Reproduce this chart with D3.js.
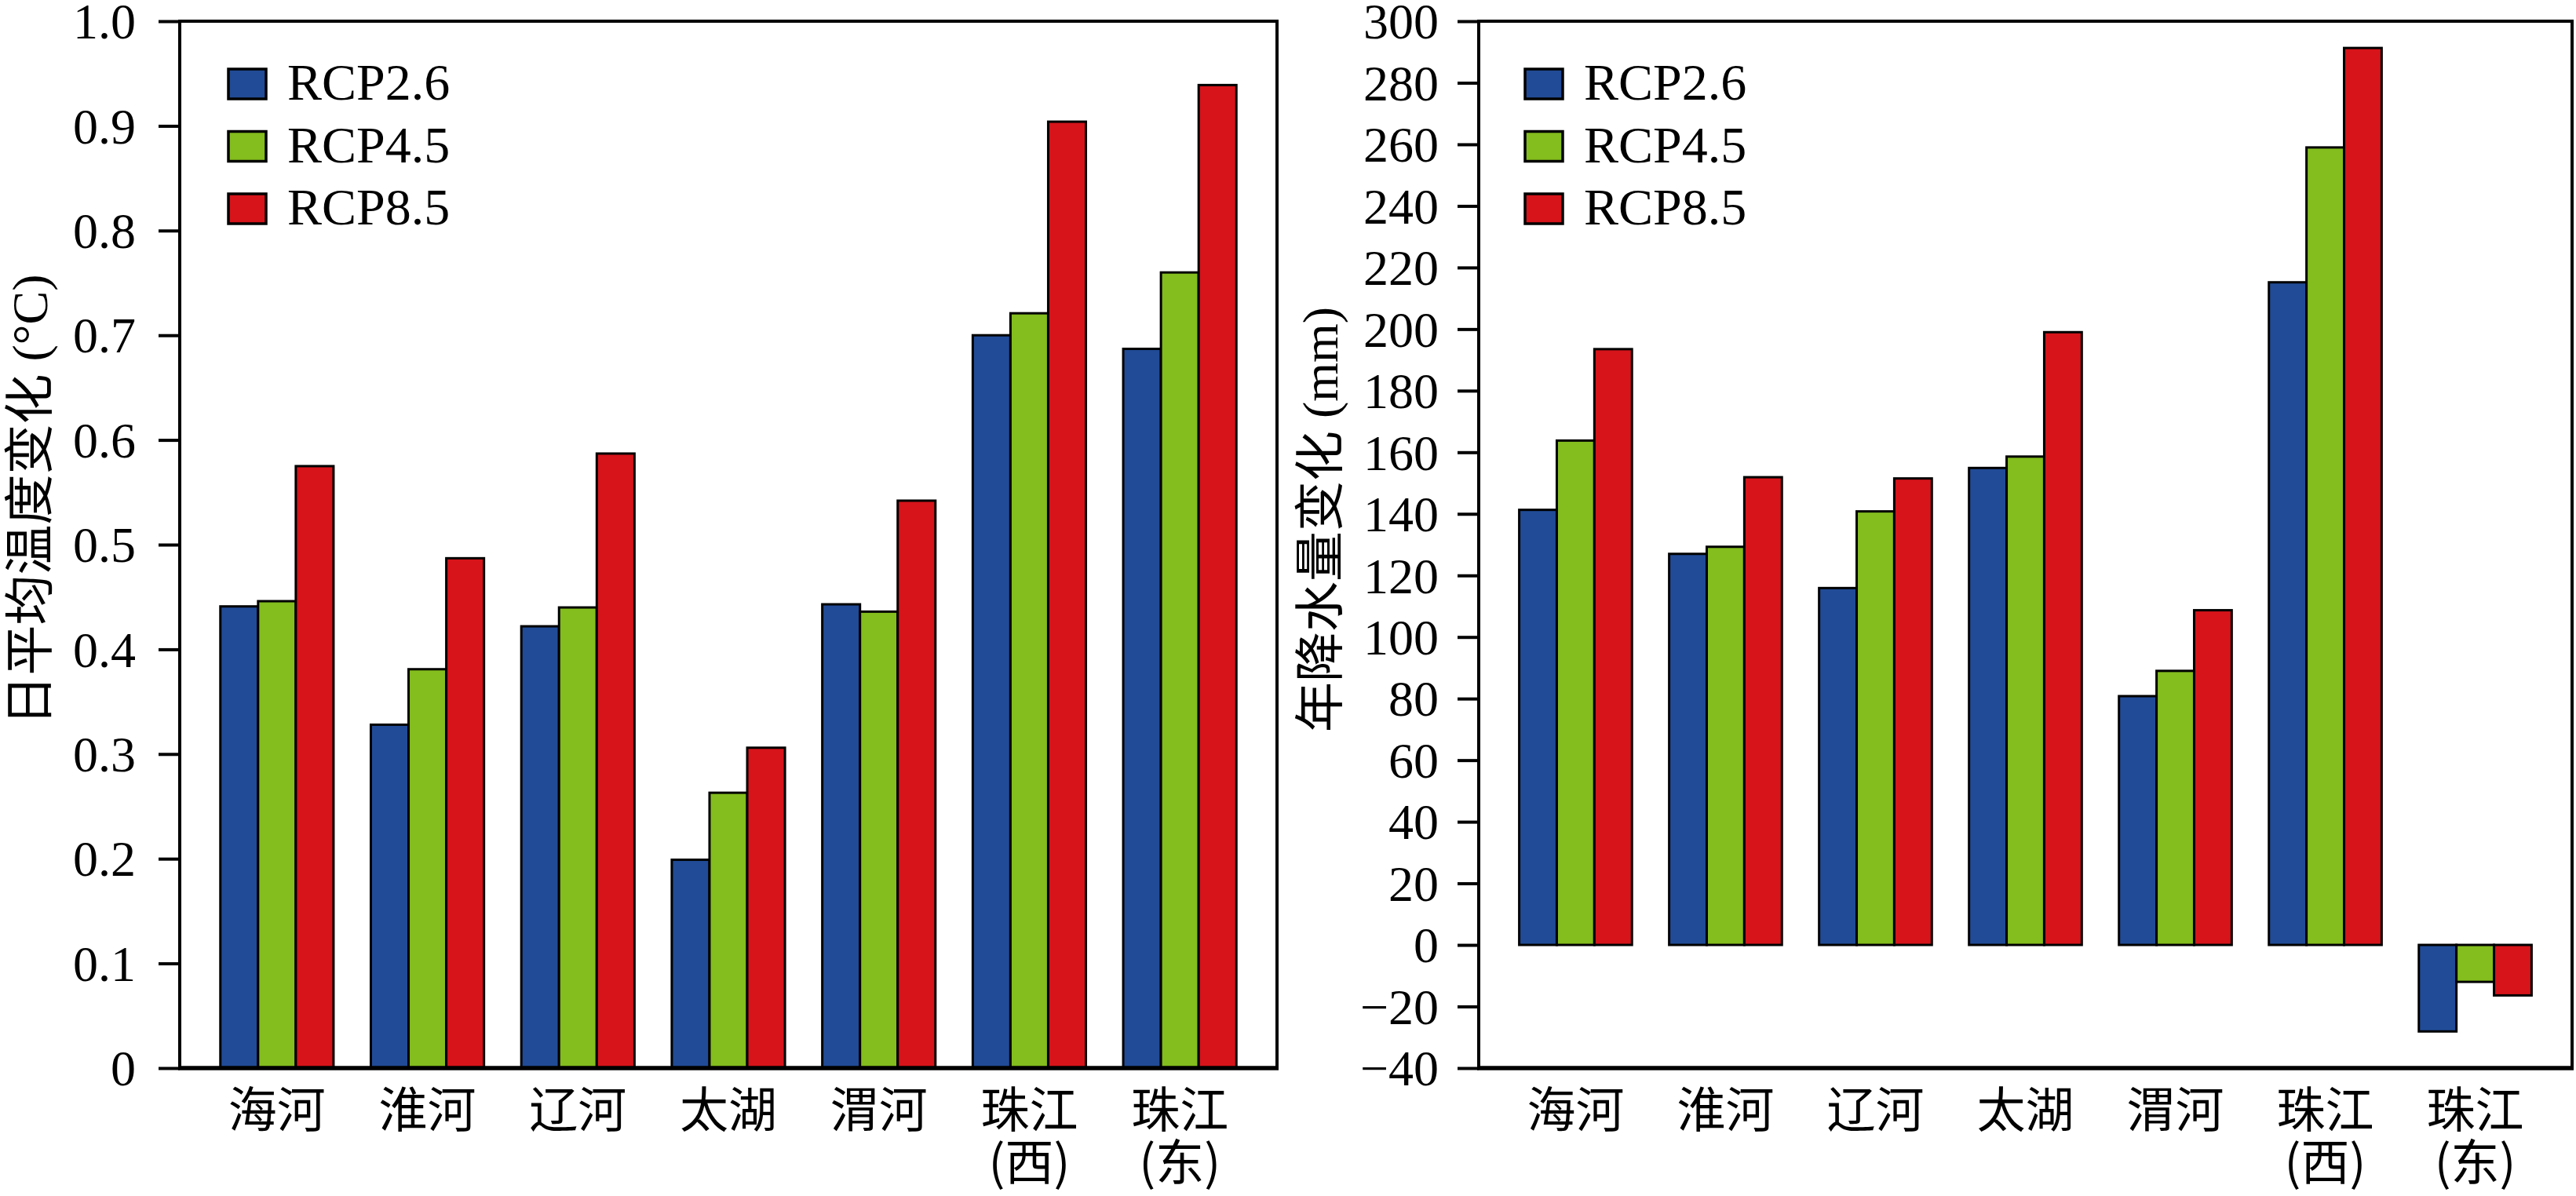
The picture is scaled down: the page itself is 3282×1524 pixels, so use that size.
<!DOCTYPE html>
<html>
<head>
<meta charset="utf-8">
<script src="https://cdnjs.cloudflare.com/ajax/libs/d3/7.8.5/d3.min.js"></script>
<style>
  body { margin: 0; background: #fff; }
  svg { display: block; }
</style>
</head>
<body>
<div id="chart"></div>
<script>
'use strict';

var basins = ['海河', '淮河', '辽河', '太湖', '渭河', '珠江(西)', '珠江(东)'];
var scenarios = ['RCP2.6', 'RCP4.5', 'RCP8.5'];
var colors = ['#214b96', '#83bd1e', '#d6141a'];

// daily mean temperature change (°C)
var tempRcp26 = [0.441, 0.328, 0.422, 0.199, 0.443, 0.700, 0.687];
var tempRcp45 = [0.446, 0.381, 0.440, 0.263, 0.436, 0.721, 0.760];
var tempRcp85 = [0.575, 0.487, 0.587, 0.306, 0.542, 0.904, 0.939];

// annual precipitation change (mm)
var precRcp26 = [141.3, 127.0, 115.9, 154.9, 80.8, 215.2, -28.1];
var precRcp45 = [163.8, 129.3, 140.8, 158.6, 89.0, 259.0, -12.0];
var precRcp85 = [193.5, 151.9, 151.5, 199.0, 108.7, 291.3, -16.4];

var tempTicks = [0, 0.1, 0.2, 0.3, 0.4, 0.5, 0.6, 0.7, 0.8, 0.9, 1.0];
var tempTickLabels = ['0', '0.1', '0.2', '0.3', '0.4', '0.5', '0.6', '0.7', '0.8', '0.9', '1.0'];
var precTicks = [-40, -20, 0, 20, 40, 60, 80, 100, 120, 140, 160, 180, 200, 220, 240, 260, 280, 300];
var precTickLabels = ['\u221240', '\u221220', '0', '20', '40', '60', '80', '100', '120', '140', '160',
  '180', '200', '220', '240', '260', '280', '300'];

var W = 3282, H = 1524;
var serif = "'Liberation Serif', 'Times New Roman', serif";
var cjk = "'Noto Sans CJK SC', 'Noto Sans CJK TC', sans-serif";

var svg = d3.select('#chart')
  .append('svg')
  .attr('width', W)
  .attr('height', H);

svg.append('rect')
  .attr('width', W)
  .attr('height', H)
  .attr('fill', '#fff');

/**
 * Draws one grouped bar panel with its frame, y axis, category labels and legend.
 */
function drawPanel(p) {
  var g = svg.append('g');

  var y = d3.scaleLinear()
    .domain(p.domain)
    .range([p.bottom, p.top]);

  var x0 = d3.scaleBand()
    .domain(basins)
    .range([p.left, p.right])
    .paddingInner(0.248)
    .paddingOuter(0.27);

  var x1 = d3.scaleBand()
    .domain(scenarios)
    .range([0, x0.bandwidth()])
    .padding(0);

  var rows = basins.map(function(b, i) {
    return scenarios.map(function(s, j) {
      return { basin: b, scenario: s, value: p.series[j][i], color: colors[j] };
    });
  });

  // bars
  g.append('g')
    .selectAll('g')
    .data(rows)
    .join('g')
    .attr('transform', function(d, i) { return 'translate(' + x0(basins[i]) + ',0)'; })
    .selectAll('rect')
    .data(function(d) { return d; })
    .join('rect')
    .attr('x', function(d) { return x1(d.scenario); })
    .attr('y', function(d) { return Math.min(y(d.value), y(0)); })
    .attr('width', x1.bandwidth())
    .attr('height', function(d) { return Math.abs(y(d.value) - y(0)); })
    .attr('fill', function(d) { return d.color; })
    .attr('stroke', '#000')
    .attr('stroke-width', 3);

  // frame
  g.append('rect')
    .attr('x', p.left)
    .attr('y', p.top)
    .attr('width', p.right - p.left)
    .attr('height', p.bottom - p.top)
    .attr('fill', 'none')
    .attr('stroke', '#000')
    .attr('stroke-width', 4);

  g.append('line')
    .attr('x1', p.left - 2)
    .attr('x2', p.right + 2)
    .attr('y1', p.bottom)
    .attr('y2', p.bottom)
    .attr('stroke', '#000')
    .attr('stroke-width', 5.5);

  // y axis
  var yAxis = d3.axisLeft(y)
    .tickValues(p.ticks)
    .tickFormat(function(d, i) { return p.tickLabels[i]; })
    .tickSize(27)
    .tickSizeOuter(0)
    .tickPadding(p.tickPad);

  var ax = g.append('g')
    .attr('transform', 'translate(' + p.left + ',0)')
    .call(yAxis);
  ax.select('.domain').remove();
  ax.selectAll('.tick line')
    .attr('stroke', '#000')
    .attr('stroke-width', 4);
  ax.selectAll('.tick text')
    .attr('fill', '#000')
    .attr('dy', '0.34em')
    .style('font-family', serif)
    .style('font-size', '64px');

  // category labels, two lines where the name carries a (part)
  var lab = g.append('g')
    .selectAll('text')
    .data(basins)
    .join('text')
    .attr('text-anchor', 'middle')
    .attr('fill', '#000')
    .style('font-family', cjk)
    .style('font-size', '62px');

  lab.each(function(d) {
    var t = d3.select(this);
    var cx = x0(d) + x0.bandwidth() / 2;
    var parts = d.split('(');
    t.append('tspan')
      .attr('x', cx)
      .attr('y', 1437)
      .text(parts[0]);
    if (parts.length > 1) {
      t.append('tspan')
        .attr('x', cx)
        .attr('y', 1504)
        .text('(' + parts[1]);
    }
  });

  // y title
  var title = g.append('text')
    .attr('transform', 'translate(' + p.titleX + ',' + p.titleY + ') rotate(-90)')
    .attr('text-anchor', 'middle')
    .attr('fill', '#000')
    .style('font-size', '64px');
  title.append('tspan')
    .style('font-family', cjk)
    .text(p.title);
  title.append('tspan')
    .style('font-family', serif)
    .text(' ' + p.unit);

  // legend
  var leg = g.append('g')
    .selectAll('g')
    .data(scenarios)
    .join('g')
    .attr('transform', function(d, i) {
      return 'translate(' + (p.left + p.legendDx) + ',' + (88 + i * 79.5) + ')';
    });

  leg.append('rect')
    .attr('width', 48)
    .attr('height', 38)
    .attr('fill', function(d, i) { return colors[i]; })
    .attr('stroke', '#000')
    .attr('stroke-width', 3.5);

  leg.append('text')
    .attr('x', 75)
    .attr('y', 39)
    .attr('fill', '#000')
    .style('font-family', serif)
    .style('font-size', '66px')
    .text(function(d) { return d; });
}

drawPanel({
  left: 229, right: 1627, top: 27, bottom: 1361,
  domain: [0, 1],
  series: [tempRcp26, tempRcp45, tempRcp85],
  ticks: tempTicks,
  tickLabels: tempTickLabels,
  tickPad: 29,
  title: '日平均温度变化',
  unit: '(°C)',
  titleX: 60, titleY: 637,
  legendDx: 62
});

drawPanel({
  left: 1884, right: 3277, top: 27, bottom: 1361,
  domain: [-40, 300],
  series: [precRcp26, precRcp45, precRcp85],
  ticks: precTicks,
  tickLabels: precTickLabels,
  tickPad: 24,
  title: '年降水量变化',
  unit: '(mm)',
  titleX: 1704, titleY: 662,
  legendDx: 59
});
</script>
</body>
</html>
